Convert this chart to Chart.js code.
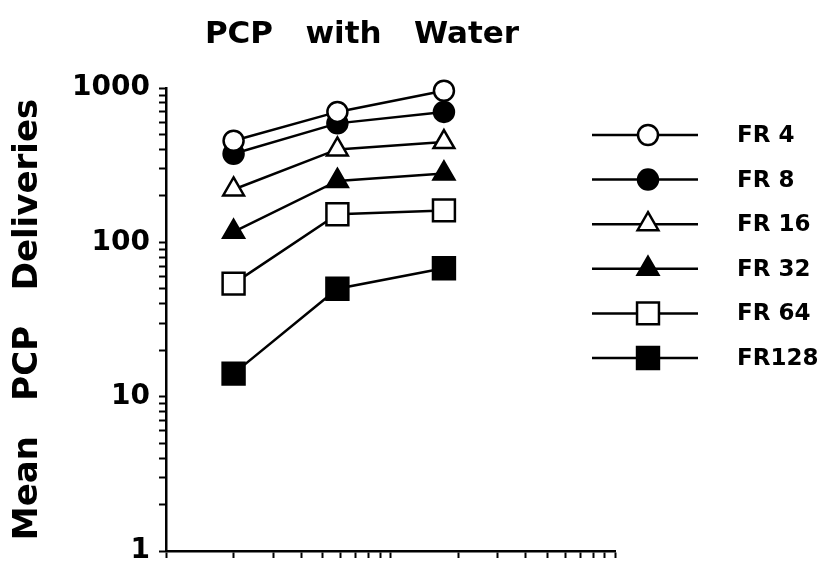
<!DOCTYPE html>
<html>
<head>
<meta charset="utf-8">
<script src="https://cdn.jsdelivr.net/npm/chart.js@4/dist/chart.umd.min.js"></script>
<style>
    html, body { margin: 0; padding: 0; background: #fff; }
    #wrap { width: 826px; height: 570px; }
</style>
</head>
<body>
<div id="wrap"><canvas id="pcpChart"></canvas></div>
<script>
// Data
const sessionX = [2, 5.8, 17.3];
const seriesNames = ['FR 4', 'FR 8', 'FR 16', 'FR 32', 'FR 64', 'FR128'];
const fr4 = [455, 700, 960];
const fr8 = [375, 590, 700];
const fr16 = [220, 400, 446];
const fr32 = [117, 250, 279];
const fr64 = [54, 152, 161];
const fr128 = [14.1, 50, 68];
const yLabels = [1, 10, 100, 1000];
const decadeSteps = [1, 2, 3, 4, 5, 6, 7, 8, 9];

const seriesValues = [fr4, fr8, fr16, fr32, fr64, fr128];
const markerStyle = ['circle', 'circle', 'triangle', 'triangle', 'rect', 'rect'];
const markerFilled = [false, true, false, true, false, true];
const markerRadius = { circle: 10, triangle: 12, rect: 15.5 };

const FONT = "'DejaVu Sans', sans-serif";

// log tick list (1..9 per decade)
function logTicks(min, max) {
    const out = [];
    for (let p = min; p < max; p *= 10) {
        decadeSteps.forEach(s => out.push({ value: s * p }));
    }
    out.push({ value: max });
    return out;
}

function drawMarker(ctx, style, r, x, y) {
    ctx.beginPath();
    if (style === 'circle') {
        ctx.arc(x, y, r, 0, Math.PI * 2);
    } else if (style === 'triangle') {
        ctx.moveTo(x, y - r);
        ctx.lineTo(x + r * 0.866, y + r / 2);
        ctx.lineTo(x - r * 0.866, y + r / 2);
    } else {
        const s = r * Math.SQRT1_2;
        ctx.rect(x - s, y - s, s * 2, s * 2);
    }
    ctx.closePath();
    ctx.fill();
    ctx.stroke();
}

// title + legend drawn by hand
const extras = {
    id: 'extras',
    afterDraw(chart) {
        const ctx = chart.ctx;
        ctx.save();
        ctx.fillStyle = '#000';
        ctx.font = `bold 31px ${FONT}`;
        ctx.textAlign = 'center';
        ctx.textBaseline = 'alphabetic';
        ctx.fillText('PCP   with   Water', 362, 43);

        seriesNames.forEach((name, i) => {
            const y = 135 + i * 44.6;
            ctx.strokeStyle = '#000';
            ctx.lineWidth = 2.5;
            ctx.beginPath();
            ctx.moveTo(592, y);
            ctx.lineTo(698, y);
            ctx.stroke();
            ctx.fillStyle = markerFilled[i] ? '#000' : '#fff';
            drawMarker(ctx, markerStyle[i], markerRadius[markerStyle[i]], 648, y);
            ctx.fillStyle = '#000';
            ctx.font = `bold 23px ${FONT}`;
            ctx.textAlign = 'left';
            ctx.textBaseline = 'middle';
            ctx.fillText(name, 737, y + 1);
        });
        ctx.restore();
    }
};

const datasets = seriesNames.map((name, i) => ({
    label: name,
    data: sessionX.map((x, j) => ({ x, y: seriesValues[i][j] })),
    borderColor: '#000',
    borderWidth: 2.5,
    clip: false,
    pointStyle: markerStyle[i],
    pointRadius: markerRadius[markerStyle[i]],
    pointHoverRadius: markerRadius[markerStyle[i]],
    pointBorderWidth: 2.5,
    pointBackgroundColor: markerFilled[i] ? '#000' : '#fff',
    pointBorderColor: '#000',
    tension: 0
}));

new Chart(document.getElementById('pcpChart'), {
    type: 'line',
    data: { datasets },
    plugins: [extras],
    options: {
        responsive: true,
        maintainAspectRatio: false,
        animation: false,
        layout: { padding: { top: 88, right: 211, left: 0, bottom: 0 } },
        plugins: { legend: { display: false }, title: { display: false }, tooltip: { enabled: false } },
        scales: {
            x: {
                type: 'logarithmic',
                min: 1,
                max: 100,
                afterBuildTicks: s => { s.ticks = logTicks(1, 100); },
                afterFit: s => { s.height = 19; s.paddingLeft = 0; s.paddingRight = 0; },
                ticks: { display: false, autoSkip: false },
                grid: { drawOnChartArea: false, drawTicks: true, tickLength: 7, tickWidth: 2, color: '#000' },
                border: { display: true, color: '#000', width: 2.5 }
            },
            y: {
                type: 'logarithmic',
                min: 1,
                max: 1000,
                afterBuildTicks: s => { s.ticks = logTicks(1, 1000); },
                afterFit: s => { s.width = 166; s.paddingTop = 0; s.paddingBottom = 0; },
                ticks: {
                    autoSkip: false,
                    color: '#000',
                    padding: 9,
                    font: { family: FONT, size: 28, weight: 'bold' },
                    callback: v => yLabels.includes(v) ? String(v) : ''
                },
                grid: { drawOnChartArea: false, drawTicks: true, tickLength: 7, tickWidth: 2, color: '#000' },
                border: { display: true, color: '#000', width: 2.5 },
                title: {
                    display: true,
                    text: 'Mean   PCP   Deliveries',
                    color: '#000',
                    font: { family: FONT, size: 34, weight: 'bold' },
                    padding: { top: 8, bottom: 0 }
                }
            }
        }
    }
});
</script>
</body>
</html>
